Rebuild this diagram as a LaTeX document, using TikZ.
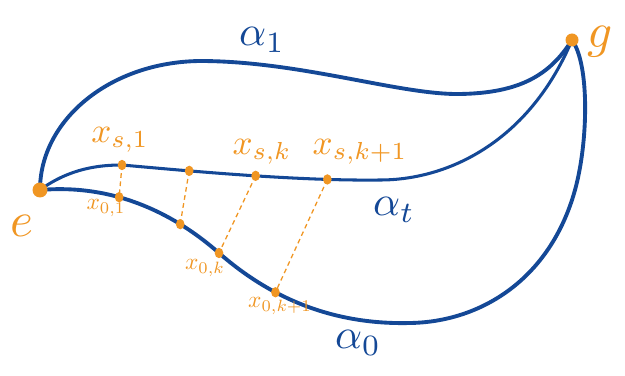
\documentclass[tikz,border=0pt]{standalone}
\usetikzlibrary{shapes.geometric}
\definecolor{pathblue}{RGB}{20,72,150}
\definecolor{ptorange}{RGB}{240,150,35}
\begin{document}
\begin{tikzpicture}[x=0.03cm,y=-0.03cm,
  curve/.style={draw=pathblue,line width=3.3pt,line cap=round,line join=round},
  midcurve/.style={draw=pathblue,line width=2.6pt,line cap=round,line join=round},
  bigdot/.style={circle,fill=ptorange,inner sep=0pt,minimum size=#1},
  smalldot/.style={ellipse,fill=ptorange,inner sep=0pt,minimum width=0.26cm,minimum height=0.31cm},
  link/.style={draw=ptorange,line width=1.1pt,dash pattern=on 4pt off 3pt},
  bluelab/.style={text=pathblue,scale=3.6},
  toplab/.style={text=ptorange,scale=3.0},
  lowlab/.style={text=ptorange,scale=2.0},
  endlab/.style={text=ptorange,scale=4.2}]
\useasboundingbox (0,0) rectangle (625,376);
% endpoints
\coordinate (e) at (40,190);
\coordinate (g) at (572,40);
% alpha_1
\draw[curve] (e) .. controls (40,120) and (110,62) .. (200,61)
  .. controls (300,61) and (400,95) .. (460,94)
  .. controls (520,93) and (550,75) .. (g);
% alpha_t
\draw[midcurve] (e) .. controls (70,168) and (100,165) .. (122,165) coordinate (s1)
  .. controls (200,172) and (300,181) .. coordinate[pos=0.27] (s2) coordinate[pos=0.52] (sk) coordinate[pos=0.79] (sk1) (380,180)
  .. controls (450,180) and (530,140) .. (g);
% alpha_0
\draw[curve] (e) .. controls (110,184) and (170,210) .. coordinate[pos=0.4] (o1) coordinate[pos=0.75] (o2) (219,253) coordinate (ok)
  .. controls (268,296) and (330,325) .. coordinate[pos=0.35] (ok1) (410,323)
  .. controls (480,322) and (550,280) .. (575,190)
  .. controls (588,143) and (590,65) .. (g);
% dashed links
\draw[link] (s1) -- (o1);
\draw[link] (s2) -- (o2);
\draw[link] (sk) -- (ok);
\draw[link] (sk1) -- (ok1);
% dots
\node[bigdot=0.45cm] (edot) at (e) {};
\node[bigdot=0.39cm] (gdot) at (g) {};
\foreach \p in {s1,s2,sk,sk1,o1,o2,ok,ok1}{\node[smalldot] (d\p) at (\p) {};}
% labels
\node[endlab] (le) at (22,226) {$e$};
\node[endlab] (lg) at (600,42) {$g$};
\node[bluelab] (la1) at (262,40) {$\alpha_1$};
\node[bluelab] (lat) at (394,210) {$\alpha_t$};
\node[bluelab] (la0) at (358,343) {$\alpha_0$};
\node[toplab] (ls1) at (120,140) {$x_{s,1}$};
\node[toplab] (lsk) at (262,152) {$x_{s,k}$};
\node[toplab] (lsk1) at (360,152) {$x_{s,k+1}$};
\node[lowlab] (lo1) at (106,208) {$x_{0,1}$};
\node[lowlab] (lok) at (205,268) {$x_{0,k}$};
\node[lowlab] (lok1) at (280,306) {$x_{0,k+1}$};
\end{tikzpicture}
\end{document}
